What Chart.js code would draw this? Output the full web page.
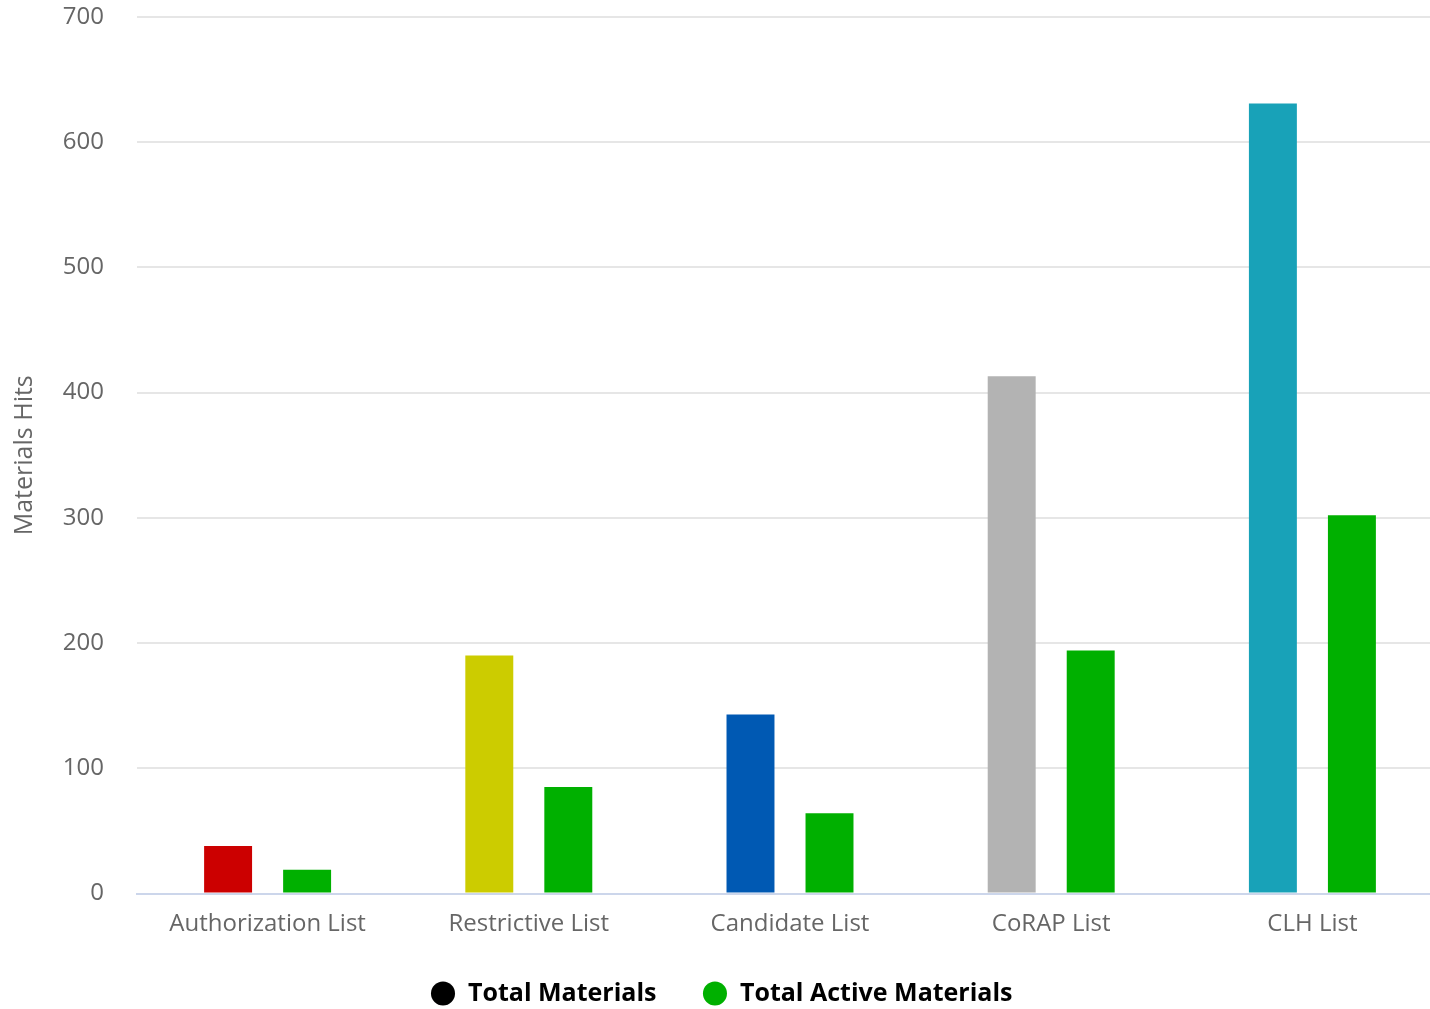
<!DOCTYPE html>
<html>

<head>
    <title>Materials Hits</title>
    <script src="https://cdn.jsdelivr.net/npm/chart.js"></script>
    <style>
        body { margin: 0; background: #fff; overflow: hidden; }
        /* the original chart is a bit wider than the picture, its right edge is cut off */
        #wrap { width: 1443px; height: 1009px; position: relative; }
    </style>
</head>

<body>
    <div id="wrap">
        <canvas id="hitsChart"></canvas>
    </div>

    <script>
        // data
        const categories = ["Authorization List", "Restrictive List", "Candidate List", "CoRAP List", "CLH List"];
        const totalMaterials = [38, 190, 143, 413, 631];
        const totalActive = [19, 85, 64, 194, 302];
        const totalColors = ["#cc0000", "#cccc00", "#0059b3", "#b3b3b3", "#18a2b8"];
        const activeColor = "#00b000";
        const yTicks = [0, 100, 200, 300, 400, 500, 600, 700];

        const fontFamily = "'Open Sans', 'DejaVu Sans', sans-serif";

        const ctx = document.getElementById("hitsChart").getContext("2d");
        new Chart(ctx, {
            type: "bar",
            data: {
                labels: categories,
                datasets: [
                    {
                        label: "Total Materials",
                        data: totalMaterials,
                        backgroundColor: totalColors,
                        borderWidth: 0,
                    },
                    {
                        label: "Total Active Materials",
                        data: totalActive,
                        backgroundColor: activeColor,
                        borderWidth: 0,
                    },
                ],
            },
            options: {
                responsive: true,
                maintainAspectRatio: false,
                animation: false,
                categoryPercentage: 0.605,
                barPercentage: 0.607,
                layout: {
                    autoPadding: false,
                    padding: { top: 17, right: 0, left: 0, bottom: -7 },
                },
                plugins: {
                    tooltip: { enabled: false },
                    legend: {
                        position: "bottom",
                        labels: {
                            usePointStyle: true,
                            boxHeight: 17,
                            boxWidth: 25,
                            padding: 46,
                            color: "#333333",
                            font: { family: fontFamily, size: 25, weight: "bold" },
                            generateLabels: function () {
                                return [
                                    { text: "Total Materials", fillStyle: "#000000", strokeStyle: "#000000", lineWidth: 0, pointStyle: "circle", datasetIndex: 0 },
                                    { text: "Total Active Materials", fillStyle: activeColor, strokeStyle: activeColor, lineWidth: 0, pointStyle: "circle", datasetIndex: 1 },
                                ];
                            },
                        },
                    },
                },
                scales: {
                    x: {
                        grid: { display: false, drawTicks: false },
                        border: { display: true, color: "#ccd6eb", width: 2 },
                        afterFit: function (scale) {
                            scale.height = 41.5;
                        },
                        ticks: {
                            color: "#666666",
                            padding: 16,
                            font: { family: fontFamily, size: 24 },
                        },
                    },
                    y: {
                        min: 0,
                        max: 700,
                        afterBuildTicks: function (scale) {
                            scale.ticks = yTicks.map((v) => ({ value: v }));
                        },
                        afterFit: function (scale) {
                            scale.width = 137;
                            scale.paddingTop = 0;
                            scale.paddingBottom = 0;
                        },
                        grid: { color: "#e6e6e6", lineWidth: 2, drawTicks: false },
                        border: { display: false },
                        ticks: {
                            color: "#666666",
                            padding: 33,
                            font: { family: fontFamily, size: 24 },
                        },
                        title: {
                            display: true,
                            text: "Materials Hits",
                            color: "#666666",
                            padding: { top: 10, bottom: 4 },
                            font: { family: fontFamily, size: 25 },
                        },
                    },
                },
            },
        });
    </script>
</body>

</html>
